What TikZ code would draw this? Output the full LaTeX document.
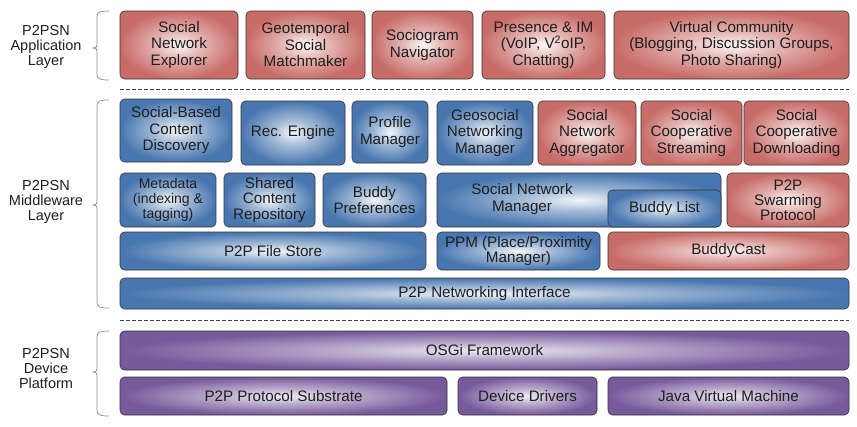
\documentclass[tikz,border=0pt]{standalone}
\usepackage{fontspec}
\setmainfont{Liberation Sans}
\definecolor{redc}{RGB}{200,108,104}
\definecolor{bluec}{RGB}{72,118,175}
\definecolor{purc}{RGB}{118,90,155}
\definecolor{txtc}{RGB}{30,30,30}
\pgfdeclareradialshading{redsh}{\pgfpoint{0bp}{0bp}}{color(0bp)=(redc!6!white); color(10bp)=(redc!50!white); color(25bp)=(redc); color(50bp)=(redc)}
\pgfdeclareradialshading{bluesh}{\pgfpoint{0bp}{0bp}}{color(0bp)=(bluec!6!white); color(10bp)=(bluec!50!white); color(25bp)=(bluec); color(50bp)=(bluec)}
\pgfdeclareradialshading{pursh}{\pgfpoint{0bp}{0bp}}{color(0bp)=(purc!12!white); color(10bp)=(purc!50!white); color(25bp)=(purc); color(50bp)=(purc)}
\newcommand\boxfont{\fontsize{15.2}{16.5}\selectfont}
\newcommand\tightfont{\fontsize{15.2}{15.2}\selectfont}
\newcommand\smallboxfont{\fontsize{14}{15}\selectfont}
\newcommand\bx[7]{%
  \pgfmathsetmacro\bxw{#5-#3}\pgfmathsetmacro\bxh{#6-#4}%
  \node[#2, minimum width=\bxw pt, minimum height=\bxh pt] (#1) at ({(#3+#5)/2},{(#4+#6)/2}) {#7};}
\newcommand\brc[3]{%
  \draw[bracec] (109,#1) .. controls (100,#1) and (97,#1+1) .. (97,#1+6) -- (97,#2-4)
    .. controls (97,#2-1) .. (93,#2) .. controls (97,#2+1) .. (97,#2+4) -- (97,#3-6)
    .. controls (97,#3-1) and (100,#3) .. (109,#3);}
\tikzset{
  box/.style={draw=black!80, line width=0.6pt, rounded corners=4.5pt, align=center,
    inner sep=0pt, font=\boxfont, text=txtc},
  redbox/.style={box, shading=redsh},
  bluebox/.style={box, shading=bluesh},
  purbox/.style={box, shading=pursh},
  layerlabel/.style={align=center, font=\fontsize{14.5}{15}\selectfont, text=txtc},
  bracec/.style={draw=black!45, line width=0.7pt},
  sepline/.style={draw=black!75, line width=0.6pt, dash pattern=on 4pt off 2pt}
}
\begin{document}
\begin{tikzpicture}[x=1pt,y=-1pt]
\useasboundingbox (0,0) rectangle (857,426);
% layer labels
\node[layerlabel] (lapp) at (46,47) {P2PSN\\Application\\Layer};
\node[layerlabel] (lmid) at (46,202) {P2PSN\\Middleware\\Layer};
\node[layerlabel] (ldev) at (46,369) {P2PSN\\Device\\Platform};
% braces
\brc{11}{48}{80}
\brc{100}{205}{308}
\brc{331}{372}{416}
% separators
\coordinate (s1a) at (120,89); \coordinate (s1b) at (849,89);
\coordinate (s2a) at (120,320); \coordinate (s2b) at (849,320);
\draw[sepline] (s1a) -- (s1b);
\draw[sepline] (s2a) -- (s2b);
% application layer
\bx{a1}{redbox}{120}{11}{238}{79}{Social\\Network\\Explorer}
\bx{a2}{redbox}{246}{11}{365}{79}{Geotemporal\\Social\\Matchmaker}
\bx{a3}{redbox}{372}{11}{473}{79}{Sociogram\\Navigator}
\bx{a4}{redbox}{482}{11}{605}{79}{Presence \& IM\\(VoIP, V\textsuperscript{2}oIP,\\Chatting)}
\bx{a5}{redbox}{614}{11}{849}{79}{Virtual Community\\(Blogging, Discussion Groups,\\Photo Sharing)}
% middleware row 1
\bx{m1}{bluebox}{120}{99}{232}{162}{Social-Based\\Content\\Discovery}
\bx{m2}{bluebox}{241}{101}{345}{165}{Rec. Engine}
\bx{m3}{bluebox}{352}{101}{428}{163}{Profile\\Manager}
\bx{m4}{bluebox}{437}{101}{533}{165}{Geosocial\\Networking\\Manager}
\bx{m5}{redbox}{538}{101}{636}{165}{Social\\Network\\Aggregator}
\bx{m6}{redbox}{641}{101}{742}{165}{Social\\Cooperative\\Streaming}
\bx{m7}{redbox}{744}{101}{849}{165}{Social\\Cooperative\\Downloading}
% middleware row 2
\bx{m8}{bluebox,font=\smallboxfont}{120}{173}{216}{227}{Metadata\\(indexing \&\\tagging)}
\bx{m9}{bluebox,font=\tightfont}{224}{173}{315}{227}{Shared\\Content\\Repository}
\bx{m10}{bluebox}{323}{173}{426}{227}{Buddy\\Preferences}
\bx{m11}{bluebox}{437}{173}{721}{227}{}
\node[font=\boxfont, align=center, text=txtc] (m11t) at (522,199) {Social Network\\Manager};
\bx{m12}{bluebox}{608}{190}{721}{227}{Buddy List}
\bx{m13}{redbox,font=\tightfont}{727}{173}{849}{227}{P2P\\Swarming\\Protocol}
% middleware row 3
\bx{m14}{bluebox}{120}{232}{426}{270}{P2P File Store}
\bx{m15}{bluebox,font=\tightfont}{437}{232}{600}{270}{PPM (Place/Proximity\\Manager)}
\bx{m16}{redbox}{608}{232}{849}{270}{BuddyCast}
% middleware row 4
\bx{m17}{bluebox}{120}{278}{849}{309}{P2P Networking Interface}
% device platform
\bx{d1}{purbox}{120}{331}{849}{370}{OSGi Framework}
\bx{d2}{purbox}{120}{377}{447}{415}{P2P Protocol Substrate}
\bx{d3}{purbox}{458}{377}{597}{415}{Device Drivers}
\bx{d4}{purbox}{608}{377}{849}{415}{Java Virtual Machine}
\end{tikzpicture}
\end{document}
